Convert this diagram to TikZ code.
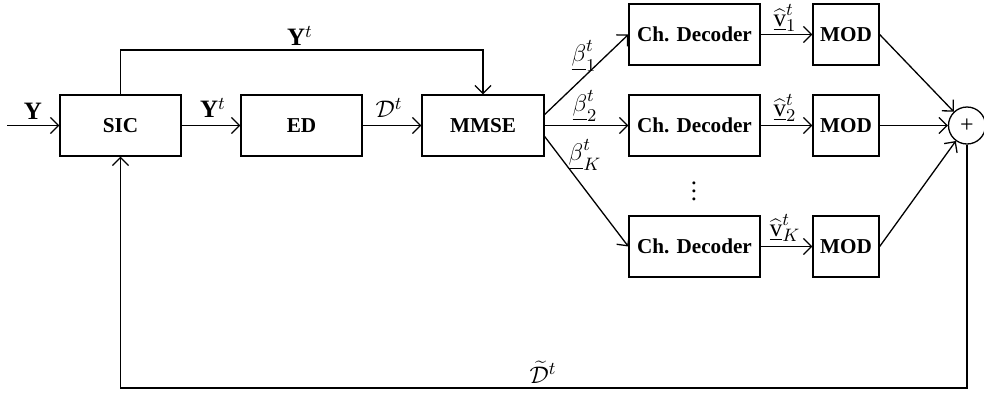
\documentclass[tikz,border=0pt]{standalone}
\usepackage{fontspec}
\setmainfont{Liberation Serif}
\usetikzlibrary{arrows.meta}
\begin{document}
\begin{tikzpicture}[x=0.5pt,y=-0.5pt,
  every node/.style={font=\fontsize{11}{13}\selectfont},
  blk/.style={draw,line width=0.65pt,inner sep=0pt,minimum height=30.5pt,font=\fontsize{10.6}{13}\selectfont\bfseries},
  arr/.style={line width=0.65pt,-{Straight Barb[length=4pt,width=8pt,line width=0.65pt]}},
  lab/.style={inner sep=0pt,font=\fontsize{12.5}{14}\selectfont}]
\useasboundingbox (0,0) rectangle (984,397);
\node[blk,minimum width=60.5pt] (sic) at (120.5,125.5) {SIC};
\node[blk,minimum width=60.5pt] (ed) at (301.5,125.5) {ED};
\node[blk,minimum width=61pt] (mmse) at (483,125.5) {MMSE};
\node[blk,minimum width=65.5pt] (d1) at (694.5,34.5) {Ch. Decoder};
\node[blk,minimum width=65.5pt] (d2) at (694.5,125.5) {Ch. Decoder};
\node[blk,minimum width=65.5pt] (dk) at (694.5,246.5) {Ch. Decoder};
\node[blk,minimum width=33pt] (m1) at (846,34.5) {MOD};
\node[blk,minimum width=33pt] (m2) at (846,125.5) {MOD};
\node[blk,minimum width=33pt] (mk) at (846,246.5) {MOD};
\node[draw,circle,line width=0.65pt,minimum size=18.5pt,inner sep=0pt,font=\fontsize{12}{14}\selectfont] (sum) at (967,125.5) {+};
\coordinate (in) at (7,125.5);
\coordinate (t1) at (120.5,50);
\coordinate (t2) at (483,50);
\coordinate (b1) at (967,388);
\coordinate (b2) at (120.5,388);
\draw[arr] (in) -- (sic);
\draw[arr] (sic) -- (ed);
\draw[arr] (ed) -- (mmse);
\draw[arr] (sic.north) -- (t1) -- (t2) -- (mmse.north);
\draw[arr] ([yshift=5.5pt]mmse.east) -- (d1.west);
\draw[arr] (mmse.east) -- (d2.west);
\draw[arr] ([yshift=-5.5pt]mmse.east) -- (dk.west);
\draw[arr] (d1) -- (m1);
\draw[arr] (d2) -- (m2);
\draw[arr] (dk) -- (mk);
\draw[arr] (m1.east) -- (sum);
\draw[arr] (m2.east) -- (sum);
\draw[arr] (mk.east) -- (sum);
\draw[arr] (sum.south) -- (b1) -- (b2) -- (sic.south);
\node[lab] (ly) at (33,111) {$\mathbf{Y}$};
\node[lab] (ly2) at (213,108) {$\mathbf{Y}^t$};
\node[lab] (ld) at (389,108) {$\mathcal{D}^t$};
\node[lab] (lyt) at (300,36) {$\mathbf{Y}^t$};
\node[lab] (lb1) at (584,56) {$\underline{\beta}_1^t$};
\node[lab] (lb2) at (585,106) {$\underline{\beta}_2^t$};
\node[lab] (lbk) at (585,155) {$\underline{\beta}_K^t$};
\node[lab] (lv1) at (785,18) {$\widehat{\underline{\mathrm{v}}}_1^t$};
\node[lab] (lv2) at (785,108) {$\widehat{\underline{\mathrm{v}}}_2^t$};
\node[lab] (lvk) at (785,228) {$\widehat{\underline{\mathrm{v}}}_K^t$};
\node[lab] (dots) at (694,185) {$\vdots$};
\node[lab] (ldt) at (543,372) {$\widetilde{\mathcal{D}}^t$};
\end{tikzpicture}
\end{document}
